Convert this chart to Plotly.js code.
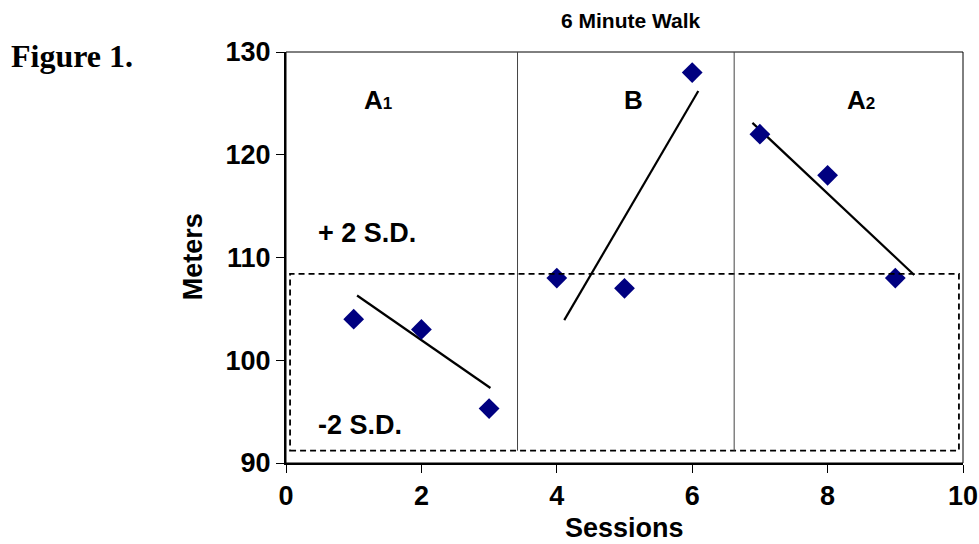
<!DOCTYPE html>
<html>
<head>
<meta charset="utf-8">
<script src="https://cdn.plot.ly/plotly-3.0.1.min.js"></script>
<style>html,body{margin:0;padding:0;background:#fff;}#chart{width:979px;height:544px;}</style>
</head>
<body>
<div id="chart"></div>
<script>
const sessions = [1, 2, 3, 4, 5, 6, 7, 8, 9];
const meters = [104, 103, 95.3, 108, 107, 128, 122, 118, 108];

const trendA1x = [1.05, 3.02];
const trendA1y = [106.3, 97.3];
const trendBx = [4.11, 6.09];
const trendBy = [103.9, 126.2];
const trendA2x = [6.89, 9.28];
const trendA2y = [123.1, 108.3];

const phaseChanges = [3.42, 6.62];
const sdUpper = 108.4;
const sdLower = 91.2;
const sdLeft = 0.06;
const sdRight = 9.94;

const phaseLabels = ['A<span style="font-size:17px">1</span>', 'B', 'A<span style="font-size:17px">2</span>'];
const phaseLabelX = [1.36, 5.13, 8.5];
const phaseLabelY = 125.3;

const xTicks = [0, 2, 4, 6, 8, 10];
const yTicks = [90, 100, 110, 120, 130];

const F = 'Liberation Sans, Arial, sans-serif';
const BIG = 27;

const traces = [
  {x: trendA1x, y: trendA1y, mode: 'lines', line: {color: '#000', width: 2.2}, hoverinfo: 'skip'},
  {x: trendBx, y: trendBy, mode: 'lines', line: {color: '#000', width: 2.2}, hoverinfo: 'skip'},
  {x: trendA2x, y: trendA2y, mode: 'lines', line: {color: '#000', width: 2.2}, hoverinfo: 'skip'},
  {x: sessions, y: meters, mode: 'markers', marker: {symbol: 'diamond', size: 16, color: '#000080'}}
];

const shapes = [
  {type: 'rect', xref: 'paper', yref: 'paper', x0: 0, x1: 1, y0: 0, y1: 1, line: {color: '#000', width: 1}},
  {type: 'rect', xref: 'x', yref: 'y', x0: sdLeft, x1: sdRight, y0: sdLower, y1: sdUpper, line: {color: '#000', width: 1.8, dash: '6px,4px'}}
];
phaseChanges.forEach(p => shapes.push({type: 'line', xref: 'x', yref: 'y', x0: p, x1: p, y0: sdLower, y1: 130, line: {color: '#444', width: 1}}));

const annotations = [
  {xref: 'paper', yref: 'paper', x: 0.51, y: 1, yshift: 45, text: '<b>6 Minute Walk</b>', showarrow: false, font: {family: F, size: 21, color: '#000'}},
  {xref: 'x', yref: 'y', x: 1.2, y: 112.4, text: '<b>+ 2 S.D.</b>', showarrow: false, font: {family: F, size: BIG, color: '#000'}},
  {xref: 'x', yref: 'y', x: 1.1, y: 93.7, text: '<b>-2 S.D.</b>', showarrow: false, font: {family: F, size: BIG, color: '#000'}},
  {xref: 'paper', yref: 'paper', x: -0.4085, y: 0.99, xanchor: 'left', yanchor: 'middle', text: '<b>Figure 1.</b>', showarrow: false, font: {family: 'Liberation Serif, Times New Roman, serif', size: 32, color: '#000'}},
  {xref: 'paper', yref: 'paper', x: 0.5, y: -0.158, yanchor: 'middle', text: '<b>Sessions</b>', showarrow: false, font: {family: F, size: BIG, color: '#000'}},
  {xref: 'paper', yref: 'paper', x: -0.137, y: 0.501, xanchor: 'center', yanchor: 'middle', textangle: -90, text: '<b>Meters</b>', showarrow: false, font: {family: F, size: BIG, color: '#000'}}
];
phaseLabels.forEach((t, i) => annotations.push({xref: 'x', yref: 'y', x: phaseLabelX[i], y: phaseLabelY, text: '<b>' + t + '</b>', showarrow: false, font: {family: F, size: 26, color: '#000'}}));

const layout = {
  width: 979, height: 544,
  margin: {l: 286, r: 16, t: 52, b: 81},
  paper_bgcolor: '#fff', plot_bgcolor: '#fff',
  showlegend: false,
  font: {family: F, color: '#000'},
  xaxis: {
    range: [0, 10], tickvals: xTicks, ticktext: xTicks.map(v => '<b>' + v + '</b>'),
    showgrid: false, zeroline: false, showline: true, linecolor: '#000', linewidth: 2,
    ticks: 'outside', ticklen: 8, tickwidth: 1, tickcolor: '#000',
    tickfont: {family: F, size: BIG, color: '#000'}
  },
  yaxis: {
    range: [90, 130], tickvals: yTicks, ticktext: yTicks.map(v => '<b>' + v + '</b>'),
    showgrid: false, zeroline: false, showline: true, linecolor: '#000', linewidth: 2,
    ticks: 'outside', ticklen: 8, tickwidth: 1, tickcolor: '#000',
    tickfont: {family: F, size: BIG, color: '#000'}
  },
  shapes: shapes,
  annotations: annotations
};

Plotly.newPlot('chart', traces, layout, {displayModeBar: false, staticPlot: true});
</script>
</body>
</html>
